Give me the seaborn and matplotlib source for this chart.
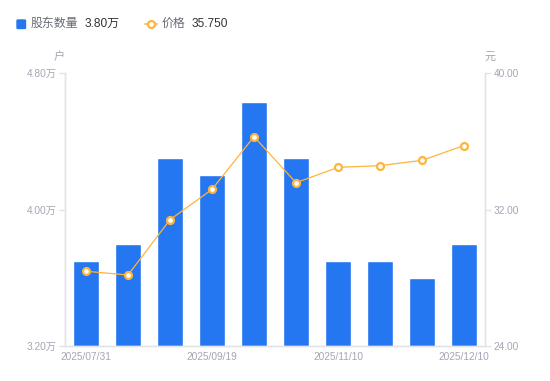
import matplotlib
matplotlib.use("Agg")
import matplotlib.pyplot as plt
import matplotlib.patches as mpatches
from matplotlib.lines import Line2D
from matplotlib.ticker import FuncFormatter
import seaborn as sns
import pandas as pd

# ── data ─────────────────────────────────────
dates = ["2025/07/31", "2025/08/15", "2025/08/29", "2025/09/19", "2025/09/30",
         "2025/10/20", "2025/11/10", "2025/11/20", "2025/11/28", "2025/12/10"]
holders = [3.70, 3.80, 4.30, 4.20, 4.63, 4.30, 3.70, 3.70, 3.60, 3.80]   # 万户
price = [28.38, 28.16, 31.40, 33.18, 36.27, 33.57, 34.47, 34.57, 34.88, 35.75]
shown_labels = ["2025/07/31", "2025/09/19", "2025/11/10", "2025/12/10"]

BLUE = "#2577F1"
ORANGE = "#FFB43C"
AXIS = "#E3E4E8"
TICK = "#A3A6B4"
DARK = "#333333"

sns.set_theme(style="white")
plt.rcParams["font.family"] = ["Liberation Sans", "Noto Sans CJK SC", "DejaVu Sans"]

df = pd.DataFrame({"date": dates, "holders": holders, "price": price})

fig = plt.figure(figsize=(5.5, 3.81), dpi=100)
W, H = 550, 381
ax = fig.add_axes([65 / W, 1 - 346 / H, 420 / W, 273 / H])

sns.barplot(data=df, x="date", y="holders", color=BLUE, width=0.6,
            saturation=1, ax=ax)
ax.set_ylim(3.2, 4.8)
ax.set_xlim(-0.5, len(dates) - 0.5)
ax.set_yticks([3.2, 4.0, 4.8])
ax.yaxis.set_major_formatter(FuncFormatter(lambda v, p: f"{v:.2f}万"))

ax2 = ax.twinx()
sns.lineplot(data=df, x="date", y="price", color=ORANGE, linewidth=0.9,
             marker="o", markersize=5, markerfacecolor="white",
             markeredgecolor=ORANGE, markeredgewidth=1.6, ax=ax2)
ax2.set_ylim(24, 40)
ax2.set_yticks([24, 32, 40])
ax2.yaxis.set_major_formatter(FuncFormatter(lambda v, p: f"{v:.2f}"))
ax.set_xlim(-0.5, len(dates) - 0.5)

ax.set_xticks([dates.index(d) for d in shown_labels])
ax.set_xticklabels(shown_labels)

for a in (ax, ax2):
    a.set_xlabel("")
    a.set_ylabel("")
    a.grid(False)
    for s in a.spines.values():
        s.set_color(AXIS)
        s.set_linewidth(1)
    a.spines["top"].set_visible(False)
    a.tick_params(axis="y", length=4, width=1, color=AXIS, labelcolor=TICK,
                  labelsize=7.3, pad=2)
    a.tick_params(axis="x", length=0, labelcolor=TICK, labelsize=7.3, pad=4)

ax.tick_params(axis="y", left=True, right=False)
ax2.tick_params(axis="y", right=True, left=False)

# unit labels
fig.text(59 / W, 1 - 57 / H, "户", ha="center", va="center", fontsize=8, color=TICK)
fig.text(490 / W, 1 - 57 / H, "元", ha="center", va="center", fontsize=8, color=TICK)

# legend
ly = 1 - 24 / H
fig.add_artist(mpatches.FancyBboxPatch((17 / W, 1 - 28.5 / H), 8.5 / W, 8.5 / H,
                                       boxstyle="round,pad=0,rounding_size=0.002",
                                       transform=fig.transFigure, color=BLUE))
fig.text(31 / W, ly, "股东数量", ha="left", va="center", fontsize=8.6, color="#666A75")
fig.text(85 / W, ly, f"{holders[-1]:.2f}万", ha="left", va="center", fontsize=8.6, color=DARK)
fig.add_artist(Line2D([145 / W, 157 / W], [ly, ly], transform=fig.transFigure,
                      color=ORANGE, linewidth=1.2))
fig.add_artist(Line2D([151 / W], [ly], transform=fig.transFigure, marker="o",
                      markersize=5, markerfacecolor="white", markeredgecolor=ORANGE,
                      markeredgewidth=1.6))
fig.text(162 / W, ly, "价格", ha="left", va="center", fontsize=8.6, color="#666A75")
fig.text(192 / W, ly, f"{price[-1]:.3f}", ha="left", va="center", fontsize=8.6, color=DARK)

fig.savefig("out.png", dpi=100)
